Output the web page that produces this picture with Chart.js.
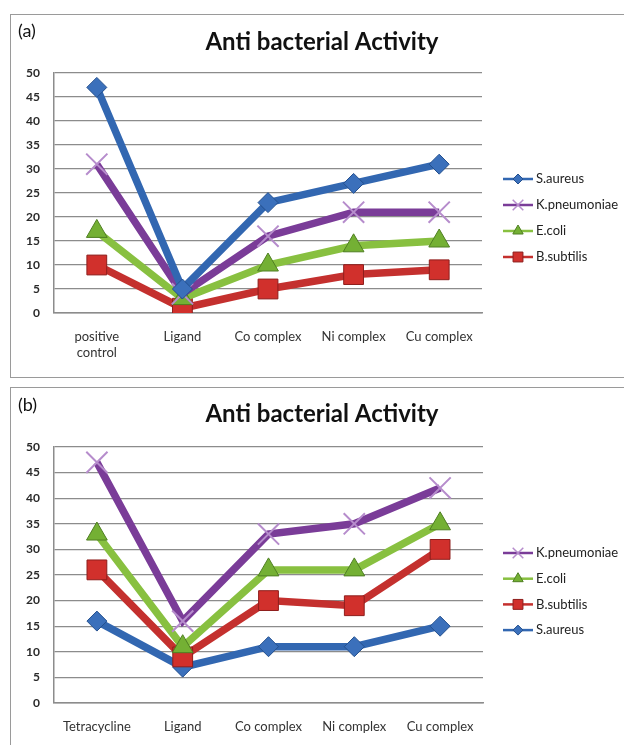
<!DOCTYPE html>
<html>
<head>
<meta charset="utf-8">
<script src="https://cdn.jsdelivr.net/npm/chart.js@4.4.1/dist/chart.umd.min.js"></script>
<style>
  html, body { margin: 0; padding: 0; background: #fff; overflow: hidden; }
  body { width: 624px; height: 745px; position: relative; }
  .frame { position: absolute; border: 1.5px solid #9a9a9a; box-sizing: border-box; }
  canvas { position: absolute; left: 0; }
</style>
</head>
<body>
<div class="frame" style="left:10px; top:14px; width:640px; height:364px;"></div>
<div class="frame" style="left:10px; top:387px; width:640px; height:400px;"></div>
<canvas id="chartA" width="624" height="380" style="top:0px;"></canvas>
<canvas id="chartB" width="624" height="365" style="top:380px;"></canvas>
<script>
// panel (a)
const categoriesA = [['positive', 'control'], 'Ligand', 'Co complex', 'Ni complex', 'Cu complex'];
const seriesA = ['S.aureus', 'K.pneumoniae', 'E.coli', 'B.subtilis'];
const sAureusA = [47, 5, 23, 27, 31];
const kPneumoniaeA = [31, 4, 16, 21, 21];
const eColiA = [17, 3, 10, 14, 15];
const bSubtilisA = [10, 1, 5, 8, 9];

// panel (b)
const categoriesB = ['Tetracycline', 'Ligand', 'Co complex', 'Ni complex', 'Cu complex'];
const seriesB = ['K.pneumoniae', 'E.coli', 'B.subtilis', 'S.aureus'];
const kPneumoniaeB = [47, 16, 33, 35, 42];
const eColiB = [33, 11, 26, 26, 35];
const bSubtilisB = [26, 9, 20, 19, 30];
const sAureusB = [16, 7, 11, 11, 15];

const yTicks = [0, 5, 10, 15, 20, 25, 30, 35, 40, 45, 50];

const FONT = 'Lato, "Open Sans", sans-serif';

const seriesStyles = {
    'S.aureus':     { line: '#3267b1', fill: '#3b70bb', edge: '#24508e', shape: 'rectRot',  r: 10 },
    'K.pneumoniae': { line: '#7a3c98', fill: '#b68ccc', edge: '#b68ccc', shape: 'crossRot', r: 15 },
    'E.coli':       { line: '#88c040', fill: '#74b034', edge: '#4f7f22', shape: 'triangle', r: 12 },
    'B.subtilis':   { line: '#c4302e', fill: '#d1302c', edge: '#8e1e1c', shape: 'rect',     r: 14 }
};

function makeDataset(name, data) {
    const s = seriesStyles[name];
    return {
        label: name,
        data: data,
        borderColor: s.line,
        borderWidth: 7.5,
        tension: 0,
        pointStyle: s.shape,
        pointRadius: s.r,
        pointHoverRadius: s.r,
        pointBackgroundColor: s.fill,
        pointBorderColor: s.edge,
        pointBorderWidth: s.shape === 'crossRot' ? 2 : 1
    };
}

function drawMarker(ctx, shape, x, y, r, fill, edge) {
    ctx.save();
    ctx.fillStyle = fill;
    ctx.strokeStyle = edge;
    ctx.lineWidth = 1;
    ctx.beginPath();
    if (shape === 'rectRot') {
        ctx.moveTo(x - r, y); ctx.lineTo(x, y - r); ctx.lineTo(x + r, y); ctx.lineTo(x, y + r);
        ctx.closePath(); ctx.fill(); ctx.stroke();
    } else if (shape === 'rect') {
        const h = r * Math.SQRT1_2;
        ctx.rect(x - h, y - h, 2 * h, 2 * h); ctx.fill(); ctx.stroke();
    } else if (shape === 'triangle') {
        ctx.moveTo(x, y - r);
        ctx.lineTo(x + r * 0.866, y + r * 0.5);
        ctx.lineTo(x - r * 0.866, y + r * 0.5);
        ctx.closePath(); ctx.fill(); ctx.stroke();
    } else if (shape === 'crossRot') {
        const d = r * Math.SQRT1_2;
        ctx.lineWidth = 1.5;
        ctx.moveTo(x - d, y - d); ctx.lineTo(x + d, y + d);
        ctx.moveTo(x + d, y - d); ctx.lineTo(x - d, y + d);
        ctx.stroke();
    }
    ctx.restore();
}

// title, panel tag and line+marker legend
const decorPlugin = {
    id: 'decor',
    afterDraw(chart, args, opts) {
        const ctx = chart.ctx;
        ctx.save();
        ctx.fillStyle = '#111';
        ctx.textBaseline = 'middle';
        ctx.font = '18px ' + FONT;
        ctx.textAlign = 'left';
        ctx.fillText(opts.tag, 18, opts.tagY);
        ctx.font = 'bold 24px ' + FONT;
        ctx.textAlign = 'center';
        ctx.fillText('Anti bacterial Activity', 322, opts.titleY);

        ctx.font = '13px ' + FONT;
        ctx.textAlign = 'left';
        chart.data.datasets.forEach((ds, i) => {
            const s = seriesStyles[ds.label];
            const y = opts.legendTop + i * opts.legendStep;
            ctx.strokeStyle = s.line;
            ctx.lineWidth = 2.5;
            ctx.beginPath();
            ctx.moveTo(503, y);
            ctx.lineTo(533, y);
            ctx.stroke();
            drawMarker(ctx, s.shape, 518, y, s.r * 0.5, s.fill, s.edge);
            ctx.fillStyle = '#222';
            ctx.fillText(ds.label, 536, y);
        });
        ctx.restore();
    }
};

function buildChart(id, categories, datasets, layout) {
    return new Chart(document.getElementById(id).getContext('2d'), {
        type: 'line',
        data: { labels: categories, datasets: datasets },
        plugins: [decorPlugin],
        options: {
            responsive: false,
            animation: false,
            events: [],
            layout: { padding: { top: layout.chartTop, right: 624 - layout.chartRight, bottom: 0, left: 0 } },
            plugins: {
                legend: { display: false },
                title: { display: false },
                tooltip: { enabled: false },
                decor: layout
            },
            scales: {
                x: {
                    offset: true,
                    grid: { display: false, drawTicks: false },
                    border: { display: true, color: '#8c8c8c', width: 1.5 },
                    ticks: { color: '#333', font: { family: FONT, size: 13 }, padding: 16, maxRotation: 0, autoSkip: false },
                    afterFit: (scale) => { scale.height = layout.height - layout.chartBottom; }
                },
                y: {
                    min: 0,
                    max: 50,
                    afterBuildTicks: (scale) => { scale.ticks = yTicks.map(v => ({ value: v })); },
                    grid: { color: '#8c8c8c', lineWidth: 1.3, drawTicks: false },
                    border: { display: true, color: '#8c8c8c', width: 1.5 },
                    ticks: { color: '#2a2a2a', font: { family: FONT, size: 12, weight: 'bold' }, padding: 14 },
                    afterFit: (scale) => { scale.width = 54; }
                }
            }
        }
    });
}

const chartA = buildChart('chartA', categoriesA, [
    makeDataset(seriesA[0], sAureusA),
    makeDataset(seriesA[1], kPneumoniaeA),
    makeDataset(seriesA[2], eColiA),
    makeDataset(seriesA[3], bSubtilisA)
], { tag: '(a)', tagY: 31, titleY: 42, legendTop: 179, legendStep: 26,
     chartTop: 73, chartBottom: 313, chartRight: 482, height: 380 });

const chartB = buildChart('chartB', categoriesB, [
    makeDataset(seriesB[0], kPneumoniaeB),
    makeDataset(seriesB[1], eColiB),
    makeDataset(seriesB[2], bSubtilisB),
    makeDataset(seriesB[3], sAureusB)
], { tag: '(b)', tagY: 25, titleY: 34, legendTop: 173, legendStep: 25.7,
     chartTop: 67, chartBottom: 323, chartRight: 483, height: 365 });
</script>
</body>
</html>
